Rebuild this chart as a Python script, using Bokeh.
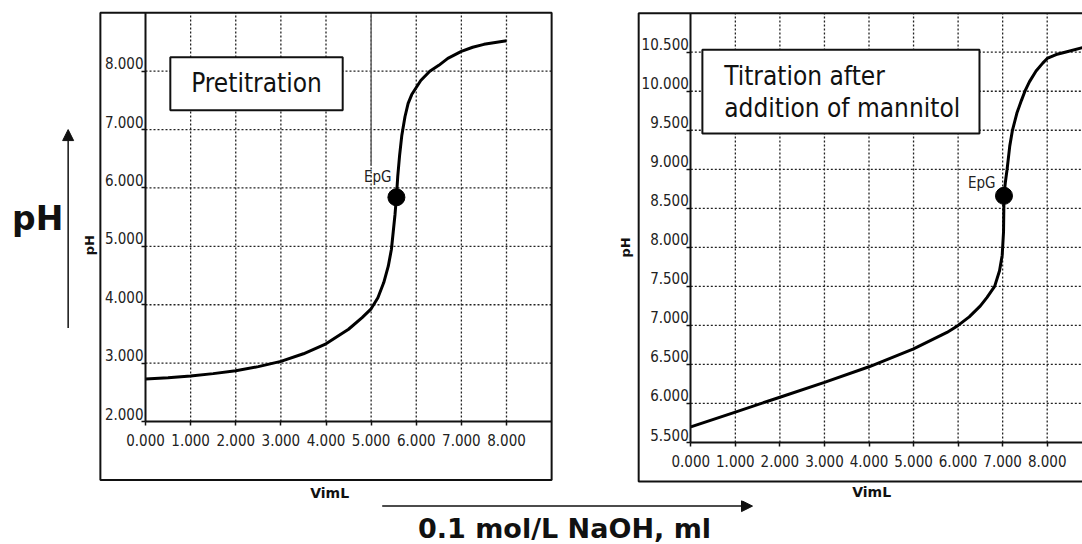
import math
from bokeh.plotting import figure
from bokeh.layouts import column, row
from bokeh.models import (Range1d, FixedTicker, PrintfTickFormatter, BoxAnnotation,
                          Label, Arrow, NormalHead, LinearAxis)
from bokeh.embed import file_html
from bokeh.resources import INLINE

# ---------------- data ----------------
pre_volume = [0.0, 0.5, 1.0, 1.5, 2.0, 2.5, 3.0, 3.5, 4.0, 4.5, 4.8, 5.0, 5.15, 5.28,
              5.38, 5.45, 5.49, 5.53, 5.56, 5.59, 5.63, 5.68, 5.75, 5.82, 5.9, 6.0,
              6.1, 6.3, 6.5, 6.7, 7.0, 7.25, 7.5, 7.75, 8.0]
pre_ph = [2.73, 2.75, 2.78, 2.82, 2.87, 2.94, 3.03, 3.16, 3.33, 3.58, 3.78, 3.93, 4.12,
          4.38, 4.66, 4.95, 5.25, 5.55, 5.84, 6.20, 6.55, 6.90, 7.22, 7.45, 7.60, 7.72,
          7.84, 8.00, 8.10, 8.22, 8.34, 8.41, 8.46, 8.49, 8.52]
pre_epg_volume = [5.56]
pre_epg_ph = [5.84]
pre_marker_volume = [5.0]
pre_marker_ph_from = [6.38]
pre_marker_ph_to = [9.0]

man_volume = [0.0, 1.0, 2.0, 3.0, 4.0, 5.0, 5.5, 5.75, 6.0, 6.25, 6.5, 6.65, 6.82,
              6.93, 6.99, 7.02, 7.03, 7.06, 7.10, 7.16, 7.22, 7.32, 7.42, 7.5, 7.6,
              7.75, 7.9, 8.0, 8.2, 8.4, 8.8]
man_ph = [5.70, 5.89, 6.08, 6.27, 6.47, 6.70, 6.84, 6.91, 7.00, 7.11, 7.25, 7.36, 7.50,
          7.70, 7.90, 8.20, 8.66, 8.83, 9.00, 9.30, 9.50, 9.72, 9.88, 10.00, 10.12,
          10.26, 10.36, 10.42, 10.47, 10.50, 10.56]
man_epg_volume = [7.03]
man_epg_ph = [8.66]

x_ticks = [0, 1, 2, 3, 4, 5, 6, 7, 8]
pre_y_ticks = [2, 3, 4, 5, 6, 7, 8]
man_y_ticks = [5.5, 6.0, 6.5, 7.0, 7.5, 8.0, 8.5, 9.0, 9.5, 10.0, 10.5]

FONT = "DejaVu Sans Condensed"
BOLD = "DejaVu Sans"
INK = "#111111"
LABEL_INK = "#222222"
ROW_H = 500
LABEL_RAISE = 8   # y tick labels sit just above their tick in the original


def panel(width, xpix, ypix, x_bounds, y_bounds, yticks):
    """xpix/ypix: ((value, pixel), (value, pixel)) anchors inside this canvas."""
    (xv0, xp0), (xv1, xp1) = xpix
    (yv0, yp0), (yv1, yp1) = ypix
    kx = (xv1 - xv0) / (xp1 - xp0)
    ky = (yv1 - yv0) / (yp0 - yp1)          # pixels measured from the top
    xr = Range1d(xv0 - xp0 * kx, xv0 + (width - xp0) * kx)
    yr = Range1d(yv0 - (ROW_H - yp0) * ky, yv0 + yp0 * ky)
    p = figure(width=width, height=ROW_H, x_range=xr, y_range=yr,
               output_backend="svg", toolbar_location=None, min_border=0)
    p.outline_line_color = None
    p.background_fill_color = "white"
    p.border_fill_color = "white"
    p.grid.visible = False
    fmt = PrintfTickFormatter(format="%.3f")
    xa, ya = p.xaxis[0], p.yaxis[0]
    for ax in (xa, ya):
        ax.axis_line_width = 2
        ax.axis_line_color = INK
        ax.major_tick_line_width = 1.5
        ax.major_tick_line_color = INK
        ax.major_tick_in = 0
        ax.major_tick_out = 4
        ax.minor_tick_line_color = None
        ax.major_label_text_font = FONT
        ax.major_label_text_font_size = "15px"
        ax.major_label_text_color = LABEL_INK
        ax.formatter = fmt
    xa.ticker = FixedTicker(ticks=x_ticks)
    ya.ticker = FixedTicker(ticks=yticks)
    xa.fixed_location = y_bounds[0]
    ya.fixed_location = x_bounds[0]
    xa.bounds = x_bounds
    ya.bounds = y_bounds
    xa.major_label_standoff = 8
    ya.major_label_text_alpha = 0
    # second y axis carrying only the tick labels, raised a few pixels
    shift = LABEL_RAISE * ky
    p.extra_y_ranges = {"ylab": Range1d(yr.start - shift, yr.end - shift)}
    lab = LinearAxis(y_range_name="ylab", ticker=FixedTicker(ticks=yticks), formatter=fmt,
                     fixed_location=x_bounds[0], axis_line_color=None,
                     major_tick_line_color=None, minor_tick_line_color=None,
                     major_tick_in=0, major_tick_out=0, major_label_standoff=2,
                     major_label_text_font=FONT, major_label_text_font_size="15px",
                     major_label_text_color=LABEL_INK)
    p.add_layout(lab, "left")
    # dotted grid, limited to the plot area
    gx = [t for t in x_ticks if t > x_bounds[0]]
    gy = [t for t in yticks if t > y_bounds[0]]
    p.segment(x0=gx, y0=[y_bounds[0]] * len(gx), x1=gx, y1=[y_bounds[1]] * len(gx),
              line_color="#222222", line_dash="2 2", line_width=1.3)
    p.segment(x0=[x_bounds[0]] * len(gy), y0=gy, x1=[x_bounds[1]] * len(gy), y1=gy,
              line_color="#222222", line_dash="2 2", line_width=1.3)
    return p


def text(p, x, y, s, size, font=FONT, bold=False, align="center", baseline="middle",
         angle=0.0, color="#111111"):
    p.add_layout(Label(x=x, y=y, text=s, text_align=align, text_baseline=baseline,
                       text_font=font, text_font_size=size, angle=angle,
                       text_font_style="bold" if bold else "normal", text_color=color))


def box(p, l, r, b, t, fill=None):
    p.add_layout(BoxAnnotation(left=l, right=r, bottom=b, top=t,
                               fill_color=fill or "white", fill_alpha=1 if fill else 0,
                               line_color=INK, line_alpha=1, line_width=2))


# ---------------- left panel: pretitration ----------------
p1 = panel(600, ((0, 145), (8, 506)), ((2, 421), (8, 70.7)), (0, 9), (2, 9), pre_y_ticks)
box(p1, -1.0, 9.0, 1.0, 9.0)
p1.segment(x0=pre_marker_volume, y0=pre_marker_ph_from, x1=pre_marker_volume,
           y1=pre_marker_ph_to, line_color="#666666", line_width=1.5)
p1.line(pre_volume, pre_ph, line_color="black", line_width=3)
p1.scatter(pre_epg_volume, pre_epg_ph, size=17, color="black")
text(p1, 5.45, 6.19, "EpG", "15px", align="right", color=LABEL_INK)
box(p1, 0.55, 4.37, 7.33, 8.24, fill="white")
text(p1, 2.46, 7.79, "Pretitration", "26px")
text(p1, -1.235, 5.02, "pH", "13px", font=BOLD, bold=True, angle=math.pi / 2)
text(p1, 4.08, 0.78, "VimL", "14px", font=BOLD, bold=True)
text(p1, -2.39, 5.47, "pH", "33px", font=BOLD, bold=True)
p1.add_layout(Arrow(x_start=-1.714, y_start=3.6, x_end=-1.714, y_end=7.0, line_width=1.5,
                    line_color=INK, end=NormalHead(size=11, fill_color=INK, line_color=INK)))

# ---------------- right panel: after mannitol ----------------
p2 = panel(482, ((0, 90.3), (8, 446.7)), ((5.5, 442), (10.5, 51.7)), (0, 9.5), (5.5, 11.0),
           man_y_ticks)
box(p2, -1.17, 9.6, 5.0, 11.0)
p2.line(man_volume, man_ph, line_color="black", line_width=3)
p2.scatter(man_epg_volume, man_epg_ph, size=17, color="black")
text(p2, 6.84, 8.83, "EpG", "15px", align="right", color=LABEL_INK)
box(p2, 0.26, 6.48, 9.46, 10.53, fill="white")
text(p2, 0.75, 10.20, "Titration after", "26px", align="left")
text(p2, 0.75, 9.78, "addition of mannitol", "26px", align="left")
text(p2, -1.47, 8.0, "pH", "13px", font=BOLD, bold=True, angle=math.pi / 2)
text(p2, 4.06, 4.86, "VimL", "14px", font=BOLD, bold=True)

# ---------------- bottom strip: titrant label ----------------
p3 = figure(width=1082, height=544 - ROW_H, x_range=Range1d(0, 1082),
            y_range=Range1d(544, ROW_H), output_backend="svg", toolbar_location=None,
            x_axis_type=None, y_axis_type=None, min_border=0)
p3.outline_line_color = None
p3.grid.visible = False
p3.add_layout(Arrow(x_start=381.7, y_start=505.6, x_end=752, y_end=505.6, line_width=1.5,
                    line_color=INK, end=NormalHead(size=11, fill_color=INK, line_color=INK)))
text(p3, 564, 528, "0.1 mol/L NaOH, ml", "27px", font=BOLD, bold=True)

layout = column(row(p1, p2), p3)
open("out.html", "w").write(file_html(layout, INLINE))
